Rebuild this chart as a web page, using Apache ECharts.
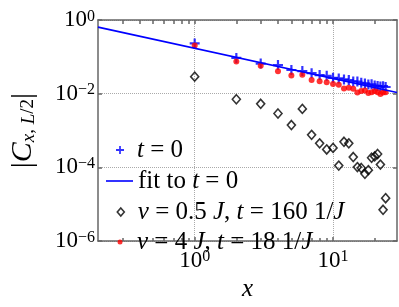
<!DOCTYPE html>
<html><head><meta charset="utf-8">
<script src="https://cdn.jsdelivr.net/npm/echarts@6/dist/echarts.min.js"></script>
<style>html,body{margin:0;padding:0;background:#fff}#c{width:399px;height:307px}</style>
</head><body><div id="c"></div>
<script>
// ---- data ----
const xPos = [1,2,3,4,5,6,7,8,9,10,11,12,13,14,15,16,17,18,19,20,21,22,23,24];
const tZero = [0.231,0.0935,0.0657,0.0599,0.044,0.041,0.036,0.032,0.0305,0.027,0.026,0.0244,0.0235,0.0215,0.0214,0.0197,0.019,0.0177,0.018,0.0167,0.0162,0.0156,0.016,0.0152];
const v05 = [0.029,0.00708,0.00532,0.0029,0.00141,0.00387,0.000764,0.00045,0.000307,0.000338,0.000112,0.000495,0.00045,0.000191,0.000102,0.0000962,0.0000671,0.0000843,0.000183,0.000199,0.000231,0.000119,0.00000708,0.0000146];
const v4 = [0.202,0.0744,0.0576,0.0409,0.0313,0.0325,0.0235,0.0218,0.0206,0.0184,0.0174,0.0138,0.0144,0.0136,0.0108,0.0118,0.0123,0.0104,0.011,0.0118,0.011,0.0098,0.0108,0.011];
const fitX = [0.2, 29];
const fitY = [0.64, 0.0108];
const xLabelTicks = [1, 10];
const xMinorTicks = [0.3,0.4,0.5,0.6,0.7,0.8,0.9,2,3,4,5,6,7,8,9,20];
const yLabelTicks = [1e-6, 1e-4, 1e-2, 1];
const names = ['t = 0', 'fit to t = 0', 'v = 0.5 J, t = 160 1/J', 'v = 4 J, t = 18 1/J'];
const richNames = {
  't = 0': '{i|t} = 0',
  'fit to t = 0': 'fit to {i|t} = 0',
  'v = 0.5 J, t = 160 1/J': '{i|v} = 0.5 {i|J}, {i|t} = 160 1/{i|J}',
  'v = 4 J, t = 18 1/J': '{i|v} = 4 {i|J}, {i|t} = 18 1/{i|J}'
};

const SERIF = 'Liberation Serif';
const AX = '#666';
const plusPath = 'path://M3.9,0H6.1V3.9H10V6.1H6.1V10H3.9V6.1H0V3.9H3.9Z';

function powLabel(v) {
  const e = Math.round(Math.log10(v));
  return '{b|10}{s|' + (e < 0 ? '\u2212' + (-e) : String(e)) + '}';
}
const powRich = {
  b: {fontFamily: SERIF, fontSize: 23, lineHeight: 23, padding: [8, 0, 0, 0], color: '#000', verticalAlign: 'bottom'},
  s: {fontFamily: SERIF, fontSize: 16, lineHeight: 15, color: '#000', verticalAlign: 'top'}
};

const logX = {type: 'log', logBase: 10, min: 0.2, max: 29};
const logY = {type: 'log', logBase: 10, min: 1e-6, max: 1};
const lineStyleAx = {color: AX, width: 1.5};

const chart = echarts.init(document.getElementById('c'), null, {renderer: 'canvas'});
const legendBase = (name, left, top, w, h, padL, extra) => Object.assign({
  data: [name], left: left, top: top, orient: 'vertical', padding: 0,
  itemWidth: w, itemHeight: h, selectedMode: false,
  formatter: n => richNames[n],
  textStyle: {fontFamily: SERIF, fontSize: 25, lineHeight: 28, color: '#000', padding: [0, 0, 0, padL],
    rich: {i: {fontFamily: SERIF, fontStyle: 'italic', fontSize: 25, lineHeight: 28, color: '#000'}}}
}, extra || {});

chart.setOption({
  animation: false,
  backgroundColor: '#fff',
  grid: {left: 96, top: 20, right: 2, bottom: 45, containLabel: false},
  xAxis: [
    Object.assign({}, logX, {
      position: 'bottom',
      name: 'x', nameLocation: 'middle', nameGap: 24,
      nameTextStyle: {fontFamily: SERIF, fontStyle: 'italic', fontSize: 25, color: '#000'},
      axisLine: {show: true, lineStyle: lineStyleAx},
      axisTick: {show: true, inside: true, length: 4, lineStyle: lineStyleAx, customValues: xLabelTicks},
      axisLabel: {show: true, customValues: xLabelTicks, formatter: powLabel, rich: powRich, margin: 8},
      splitLine: {show: true, lineStyle: {type: 'dotted', color: '#aaa', width: 1}},
      minorTick: {show: false}
    }),
    Object.assign({}, logX, {
      position: 'top',
      axisLine: {show: true, lineStyle: lineStyleAx},
      axisTick: {show: true, inside: true, length: 4, lineStyle: lineStyleAx, customValues: xLabelTicks.concat(xMinorTicks)},
      axisLabel: {show: false},
      splitLine: {show: false}
    }),
    Object.assign({}, logX, {
      position: 'bottom', offset: 0,
      axisLine: {show: false},
      axisTick: {show: true, inside: true, length: 3, lineStyle: lineStyleAx, customValues: xMinorTicks},
      axisLabel: {show: false},
      splitLine: {show: false}
    })
  ],
  yAxis: [
    Object.assign({}, logY, {
      position: 'left',
      name: '{a||}{c|C}{s|x}{r|, }{s|L}{r|/2}{a||}',
      nameLocation: 'middle', nameGap: 60, nameRotate: 90,
      nameTextStyle: {
        color: '#000', fontFamily: SERIF,
        rich: {
          a: {fontFamily: SERIF, fontSize: 30, lineHeight: 34, color: '#000', verticalAlign: 'bottom'},
          c: {fontFamily: SERIF, fontStyle: 'italic', fontSize: 30, lineHeight: 34, color: '#000', verticalAlign: 'bottom'},
          s: {fontFamily: SERIF, fontStyle: 'italic', fontSize: 19, lineHeight: 18, color: '#000', verticalAlign: 'bottom'},
          r: {fontFamily: SERIF, fontSize: 19, lineHeight: 18, color: '#000', verticalAlign: 'bottom'}
        }
      },
      axisLine: {show: true, lineStyle: lineStyleAx},
      axisTick: {show: true, inside: true, length: 4, lineStyle: lineStyleAx, customValues: yLabelTicks},
      axisLabel: {show: true, customValues: yLabelTicks, formatter: powLabel, rich: powRich, margin: 3},
      splitLine: {show: true, lineStyle: {type: 'dotted', color: '#aaa', width: 1}}
    }),
    Object.assign({}, logY, {
      position: 'right',
      axisLine: {show: true, lineStyle: lineStyleAx},
      axisTick: {show: true, inside: true, length: 4, lineStyle: lineStyleAx, customValues: yLabelTicks},
      axisLabel: {show: false},
      splitLine: {show: false}
    })
  ],
  legend: [
    legendBase(names[0], 116, 136, 8, 8, 8, {icon: plusPath, itemStyle: {color: '#0000ff'}}),
    legendBase(names[1], 106, 167, 27, 1.6, 0, {icon: 'rect', itemStyle: {color: '#0000ff'}}),
    legendBase(names[2], 116.5, 198, 7, 8, 8.5, {icon: 'diamond', itemStyle: {color: 'rgba(0,0,0,0)', borderColor: '#000', borderWidth: 1.6}}),
    legendBase(names[3], 117.5, 228, 5, 5, 9.5, {icon: 'circle', itemStyle: {color: '#ff0000'}})
  ],
  series: [
    {name: names[0], type: 'scatter', xAxisIndex: 0, yAxisIndex: 0,
     data: xPos.map((x, i) => [x, tZero[i]]),
     symbol: plusPath, symbolSize: 10, itemStyle: {color: '#0000ff'}},
    {name: names[1], type: 'line', xAxisIndex: 0, yAxisIndex: 0,
     data: fitX.map((x, i) => [x, fitY[i]]),
     symbol: 'none', showSymbol: false, lineStyle: {color: '#0000ff', width: 1.6}, itemStyle: {color: '#0000ff'}},
    {name: names[2], type: 'scatter', xAxisIndex: 0, yAxisIndex: 0,
     data: xPos.map((x, i) => [x, v05[i]]),
     symbol: 'diamond', symbolSize: [8, 9],
     itemStyle: {color: 'rgba(0,0,0,0)', borderColor: '#000', borderWidth: 1.6}},
    {name: names[3], type: 'scatter', xAxisIndex: 0, yAxisIndex: 0,
     data: xPos.map((x, i) => [x, v4[i]]),
     symbol: 'circle', symbolSize: 6, itemStyle: {color: '#ff0000'}}
  ]
});
</script>
</body></html>
